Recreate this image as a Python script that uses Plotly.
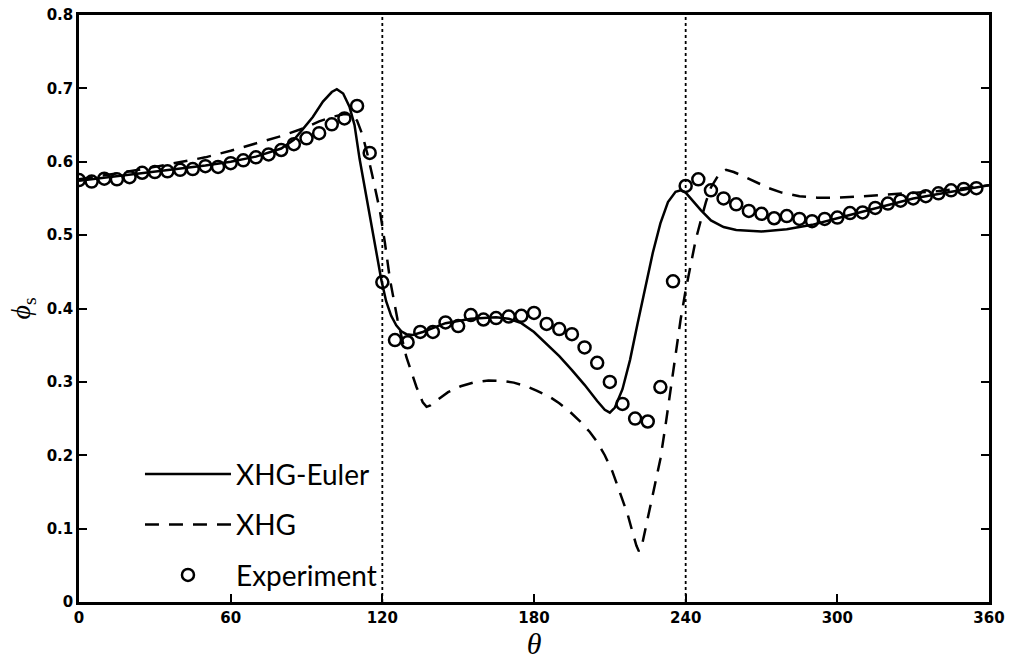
import plotly.graph_objects as go

# Experiment (open circles)
exp_theta = list(range(0, 360, 5))
exp_phi = [0.575, 0.573, 0.577, 0.576, 0.579, 0.585, 0.586, 0.587, 0.589, 0.590,
           0.594, 0.593, 0.598, 0.602, 0.606, 0.610, 0.616, 0.624, 0.632, 0.639,
           0.651, 0.659, 0.676, 0.612, 0.436, 0.357, 0.354, 0.368, 0.368, 0.381,
           0.376, 0.391, 0.385, 0.387, 0.389, 0.390, 0.394, 0.379, 0.372, 0.365,
           0.347, 0.326, 0.300, 0.270, 0.250, 0.246, 0.293, 0.437, 0.567, 0.576,
           0.561, 0.550, 0.542, 0.533, 0.529, 0.523, 0.526, 0.522, 0.519, 0.522,
           0.524, 0.530, 0.531, 0.537, 0.543, 0.547, 0.550, 0.553, 0.557, 0.561,
           0.563, 0.564]

# XHG-Euler (solid)
euler_theta = [0, 10, 20, 30, 40, 50, 60, 70, 80, 85, 87.5, 90, 92.5, 96.5, 100, 102,
               104.5, 107, 109, 111, 113.5, 116.3, 118, 119.6, 121.5, 123.5, 125.5,
               127.5, 129.5, 132, 136, 140, 145, 150, 155, 160, 165, 170, 175, 180,
               185, 190, 195, 200, 205, 208, 210, 212, 215, 218, 221, 224, 227, 230,
               233, 236, 238, 240, 243, 246, 250, 255, 260, 270, 280, 290, 300, 310,
               320, 330, 340, 350, 360]
euler_phi = [0.574, 0.578, 0.582, 0.586, 0.590, 0.595, 0.600, 0.607, 0.618, 0.630,
             0.640, 0.650, 0.661, 0.682, 0.695, 0.699, 0.693, 0.675, 0.650, 0.604,
             0.555, 0.502, 0.468, 0.439, 0.410, 0.390, 0.377, 0.369, 0.365, 0.364,
             0.368, 0.373, 0.380, 0.383, 0.386, 0.387, 0.388, 0.386, 0.380, 0.368,
             0.352, 0.335, 0.316, 0.296, 0.274, 0.262, 0.258, 0.265, 0.290, 0.330,
             0.380, 0.430, 0.476, 0.516, 0.545, 0.559, 0.561, 0.558, 0.546, 0.534,
             0.520, 0.511, 0.507, 0.505, 0.508, 0.514, 0.523, 0.532, 0.542, 0.550,
             0.556, 0.562, 0.568]

# XHG (dashed)
xhg_theta = [0, 10, 20, 30, 40, 50, 60, 70, 80, 90, 95, 100, 105, 108, 110, 112,
             114, 116, 119, 121, 123, 126, 129.5, 133.5, 136, 137.5, 139, 142, 146,
             151, 156, 162, 168, 172, 177, 181, 186, 190, 194, 198, 202, 205, 208,
             211, 214, 217, 219, 220.5, 221.5, 222.5, 224, 226, 228, 230, 232, 234,
             236, 238, 240, 242, 244, 246, 248, 250, 253, 256, 259, 263, 268, 273,
             278, 285, 292, 300, 310, 320, 330, 340, 350, 360]
xhg_phi = [0.576, 0.581, 0.587, 0.593, 0.599, 0.606, 0.615, 0.625, 0.635, 0.647,
           0.655, 0.661, 0.665, 0.664, 0.656, 0.638, 0.612, 0.582, 0.534, 0.490,
           0.440, 0.385, 0.334, 0.293, 0.272, 0.266, 0.268, 0.276, 0.286, 0.294,
           0.299, 0.302, 0.301, 0.299, 0.294, 0.288, 0.280, 0.271, 0.260, 0.247,
           0.232, 0.218, 0.200, 0.178, 0.150, 0.120, 0.095, 0.077, 0.069, 0.074,
           0.098, 0.130, 0.160, 0.195, 0.240, 0.290, 0.340, 0.385, 0.425, 0.462,
           0.494, 0.520, 0.545, 0.565, 0.582, 0.589, 0.586, 0.580, 0.572, 0.564,
           0.558, 0.553, 0.551, 0.551, 0.553, 0.555, 0.557, 0.560, 0.564, 0.568]

boundaries = [120, 240]
x_ticks = [0, 60, 120, 180, 240, 300, 360]
x_ticklabels = ["0", "60", "120", "180", "240", "300", "360"]
y_ticks = [0, 0.1, 0.2, 0.3, 0.4, 0.5, 0.6, 0.7, 0.8]
y_ticklabels = ["0", "0.1", "0.2", "0.3", "0.4", "0.5", "0.6", "0.7", "0.8"]

fig = go.Figure()
fig.add_trace(go.Scatter(x=euler_theta, y=euler_phi, mode="lines", name="XHG-Euler",
                         legendgroup="a", line=dict(color="black", width=2.5)))
fig.add_trace(go.Scatter(x=xhg_theta, y=xhg_phi, mode="lines", name="XHG",
                         legendgroup="b",
                         line=dict(color="black", width=2.5, dash="14px,10px")))
fig.add_trace(go.Scatter(x=exp_theta, y=exp_phi, mode="markers", name="Experiment",
                         legendgroup="c",
                         marker=dict(symbol="circle-open", size=12, color="black",
                                     line=dict(width=2.5, color="black"))))

for b in boundaries:
    fig.add_shape(type="line", x0=b, x1=b, y0=0, y1=0.8, xref="x", yref="y",
                  line=dict(color="black", width=1.8, dash="dot"), layer="below")

tickfont = dict(family="DejaVu Sans", size=15, color="black")
fig.update_xaxes(range=[0, 360], tickvals=x_ticks,
                 ticktext=["<b>%s</b>" % t for t in x_ticklabels],
                 ticks="inside", ticklen=8, automargin=False,
                 tickwidth=2, tickcolor="black", showline=True, linecolor="black",
                 linewidth=2.5, mirror=True, showgrid=False, zeroline=False,
                 tickfont=tickfont,
                 title=dict(text="<i>θ</i>", font=dict(family="Liberation Serif",
                                                      size=30, color="black"),
                            standoff=10))
fig.update_yaxes(range=[0, 0.8], tickvals=y_ticks,
                 ticktext=["<b>%s</b>" % t for t in y_ticklabels],
                 ticks="inside", ticklen=8, tickwidth=2, tickcolor="black",
                 automargin=False,
                 showline=True, linecolor="black", linewidth=2.5, mirror="ticks",
                 showgrid=False, zeroline=False, tickfont=tickfont,
                 title=dict(text="<i>ϕ</i><sub>s</sub>",
                            font=dict(family="Liberation Serif", size=28, color="black"),
                            standoff=8))

fig.update_layout(
    width=1011, height=660,
    margin=dict(l=79, r=22, t=15, b=58),
    paper_bgcolor="white", plot_bgcolor="white",
    showlegend=True,
    legend=dict(x=0.067, y=0.26, xanchor="left", yanchor="top",
                font=dict(family="Lato", size=28, color="black"),
                bgcolor="rgba(0,0,0,0)", borderwidth=0,
                traceorder="grouped", tracegroupgap=11, itemwidth=86),
)

fig.write_html("out.html")
